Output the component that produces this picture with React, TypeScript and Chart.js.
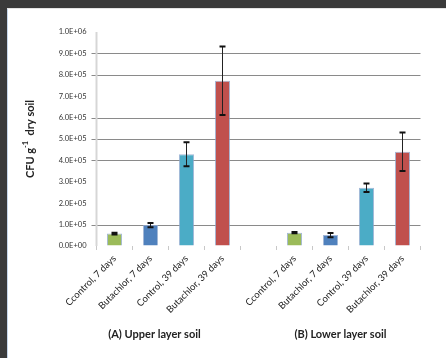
import React, { useEffect, useRef } from "react";
import { Chart, registerables } from "chart.js";

Chart.register(...registerables);

const categories = [
  "Ccontrol, 7 days",
  "Butachlor, 7 days",
  "Control, 39 days",
  "Butachlor, 39 days",
  "",
  "Ccontrol, 7 days",
  "Butachlor, 7 days",
  "Control, 39 days",
  "Butachlor, 39 days",
];
const groupTitles = ["(A) Upper layer soil", "(B) Lower layer soil"];
const upperMeans = [0.58e5, 0.98e5, 4.29e5, 7.72e5];
const upperErrors = [0.04e5, 0.1e5, 0.56e5, 1.6e5];
const lowerMeans = [0.62e5, 0.51e5, 2.72e5, 4.4e5];
const lowerErrors = [0.03e5, 0.1e5, 0.2e5, 0.9e5];
const barColors = ["#9bbb59", "#4f81bd", "#4bacc6", "#c0504d"];
const yTicks = [0, 1e5, 2e5, 3e5, 4e5, 5e5, 6e5, 7e5, 8e5, 9e5, 1e6];
const visibleGridTicks = [1e5, 4e5, 5e5, 6e5, 8e5, 9e5];

const FONT = "Lato, 'Open Sans', 'DejaVu Sans', sans-serif";

function fmtE(v: number): string {
  if (v === 0) return "0.0E+00";
  const exp = Math.floor(Math.log10(v) + 1e-9);
  const m = v / Math.pow(10, exp);
  return m.toFixed(1) + "E+" + String(exp).padStart(2, "0");
}

export default function App() {
  const ref = useRef<HTMLCanvasElement | null>(null);
  useEffect(() => {
    if (!ref.current) return;
    const values = [...upperMeans, null, ...lowerMeans];
    const errors = [...upperErrors, null, ...lowerErrors];
    const colors = [...barColors, "transparent", ...barColors];

    const gridLines = {
      id: "gridLines",
      beforeDatasetsDraw(chart: any) {
        const y = chart.scales.y;
        const area = chart.chartArea;
        const ctx = chart.ctx;
        ctx.save();
        ctx.strokeStyle = "#8a8a8a";
        ctx.lineWidth = 1;
        visibleGridTicks.forEach((v) => {
          const py = Math.round(y.getPixelForValue(v)) + 0.5;
          ctx.beginPath();
          ctx.moveTo(area.left - 5, py);
          ctx.lineTo(area.right, py);
          ctx.stroke();
        });
        // y axis line
        ctx.strokeStyle = "#d6d6d6";
        ctx.lineWidth = 2;
        ctx.beginPath();
        ctx.moveTo(area.left, area.top);
        ctx.lineTo(area.left, area.bottom);
        ctx.stroke();
        ctx.restore();
      },
    };

    const errorBars = {
      id: "errorBars",
      afterDatasetsDraw(chart: any) {
        const meta = chart.getDatasetMeta(0);
        const y = chart.scales.y;
        const ctx = chart.ctx;
        ctx.save();
        values.forEach((v, i) => {
          const e = errors[i];
          if (v == null || e == null) return;
          const x = meta.data[i].x;
          const yt = y.getPixelForValue(v + e);
          const yb = y.getPixelForValue(v - e);
          ctx.strokeStyle = "#222";
          ctx.lineWidth = 1;
          ctx.beginPath();
          ctx.moveTo(x, yt);
          ctx.lineTo(x, yb);
          ctx.stroke();
          ctx.lineWidth = 2;
          ctx.strokeStyle = "#111";
          ctx.beginPath();
          ctx.moveTo(x - 3, yt);
          ctx.lineTo(x + 3, yt);
          ctx.moveTo(x - 3, yb);
          ctx.lineTo(x + 3, yb);
          ctx.stroke();
        });
        ctx.restore();
      },
    };

    const extraText = {
      id: "extraText",
      afterDraw(chart: any) {
        const ctx = chart.ctx;
        const xs = chart.scales.x;
        const area = chart.chartArea;
        ctx.save();
        ctx.fillStyle = "#222";
        ctx.font = `bold 11px ${FONT}`;
        ctx.textAlign = "center";
        ctx.textBaseline = "middle";
        const g1 = (xs.getPixelForValue(0) + xs.getPixelForValue(3)) / 2 - 14;
        const g2 = (xs.getPixelForValue(5) + xs.getPixelForValue(8)) / 2 - 8;
        ctx.fillText(groupTitles[0], g1, 334);
        ctx.fillText(groupTitles[1], g2, 334);
        const cy = (area.top + area.bottom) / 2;
        ctx.translate(30, cy);
        ctx.rotate(-Math.PI / 2);
        ctx.textAlign = "left";
        ctx.textBaseline = "middle";
        const big = `bold 11px ${FONT}`;
        const small = `bold 7.5px ${FONT}`;
        const parts: [string, string, number][] = [
          ["CFU g", big, 0],
          ["-1", small, -4],
          ["  dry soil", big, 0],
        ];
        let total = 0;
        parts.forEach(([t, f]) => {
          ctx.font = f;
          total += ctx.measureText(t).width;
        });
        let xx = -total / 2;
        parts.forEach(([t, f, dy]) => {
          ctx.font = f;
          ctx.fillText(t, xx, dy);
          xx += ctx.measureText(t).width;
        });
        ctx.restore();
      },
    };

    const chart = new Chart(ref.current, {
      type: "bar",
      data: {
        labels: categories,
        datasets: [
          {
            data: values as any,
            backgroundColor: colors,
            borderColor: "rgba(140,165,205,0.8)",
            borderWidth: 1,
            barPercentage: 0.42,
            categoryPercentage: 1,
          },
        ],
      },
      options: {
        responsive: false,
        animation: false,
        layout: { padding: { top: 32, right: 25.5, left: 0, bottom: 0 } },
        plugins: {
          legend: { display: false },
          tooltip: { enabled: false },
        },
        scales: {
          x: {
            offset: true,
            afterFit(scale: any) {
              scale.height = 112;
            },
            grid: {
              offset: true,
              drawOnChartArea: false,
              drawTicks: true,
              tickLength: 4,
              color: "#c8c8c8",
            },
            border: { display: false },
            ticks: {
              autoSkip: false,
              maxRotation: 45,
              minRotation: 45,
              padding: 3,
              color: "#222",
              font: { family: FONT, size: 9.5 },
            },
          },
          y: {
            min: 0,
            max: 1e6,
            afterFit(scale: any) {
              scale.width = 96.5;
            },
            afterBuildTicks(scale: any) {
              scale.ticks = yTicks.map((v) => ({ value: v }));
            },
            grid: {
              display: true,
              drawOnChartArea: false,
              drawTicks: true,
              color: "rgba(0,0,0,0)",
              tickLength: 5,
            },
            border: { display: false },
            ticks: {
              padding: 5,
              color: "#333",
              font: { family: FONT, size: 7.5 },
              callback: (v: any) => fmtE(Number(v)),
            },
          },
        },
      },
      plugins: [gridLines, errorBars, extraText],
    });
    return () => chart.destroy();
  }, []);

  return (
    <div
      style={{
        position: "fixed",
        left: 0,
        top: 0,
        width: 446,
        height: 358,
        background: "#fff",
        overflow: "hidden",
      }}
    >
      <canvas ref={ref} width={446} height={358} style={{ position: "absolute", left: 0, top: 0 }} />
      <div style={{ position: "absolute", left: 0, top: 0, width: 446, height: 8, background: "#3a3a3a" }} />
      <div style={{ position: "absolute", left: 0, top: 0, width: 7, height: 358, background: "#3a3a3a" }} />
      <div style={{ position: "absolute", left: 7, top: 8, width: 1, height: 350, background: "#c6d6ea" }} />
      <div style={{ position: "absolute", left: 7, top: 8, width: 439, height: 1, background: "#e4e4e4" }} />
    </div>
  );
}
